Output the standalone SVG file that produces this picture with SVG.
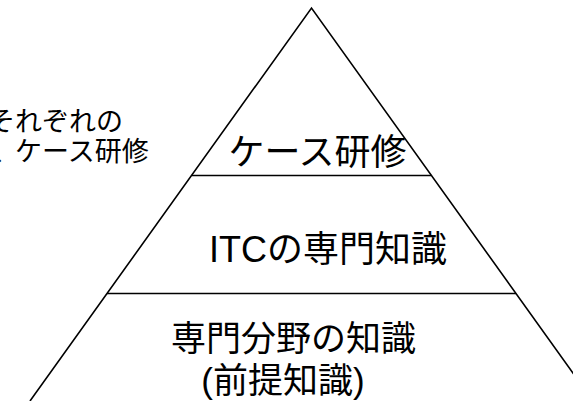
<svg xmlns="http://www.w3.org/2000/svg" width="573" height="401" viewBox="0 0 573 401">
<style>
.ln{stroke:#000;stroke-width:1.6;fill:none;stroke-linecap:butt}
.t{font-family:"Liberation Sans","Noto Sans CJK JP",sans-serif;fill:#000}
.big{font-size:36px;text-anchor:middle}
.sm{font-size:27px}
</style>
<rect width="573" height="401" fill="#fff"/>
<g id="pyramid">
<path class="ln" d="M30,401 L311.5,8 L593,401"/>
<line class="ln" x1="192" y1="175.5" x2="431" y2="175.5"/>
<line class="ln" x1="107" y1="293.5" x2="516" y2="293.5"/>
</g>
<g id="layer-top">
<text class="t big" x="317.5" y="165" textLength="178" lengthAdjust="spacingAndGlyphs">ケース研修</text>
</g>
<g id="layer-middle">
<text class="t big" x="328" y="262">ITCの専門知識</text>
</g>
<g id="layer-bottom">
<text class="t big" x="293.5" y="351" style="font-size:35px">専門分野の知識</text>
<text class="t big" x="283" y="393" style="font-size:35px">(前提知識)</text>
</g>
<g id="side-note">
<text class="t sm" x="-12" y="131">それぞれの</text>
<text class="t sm" x="-8" y="161">、</text>
<text class="t sm" x="15" y="161">ケース研修</text>
</g>
</svg>
